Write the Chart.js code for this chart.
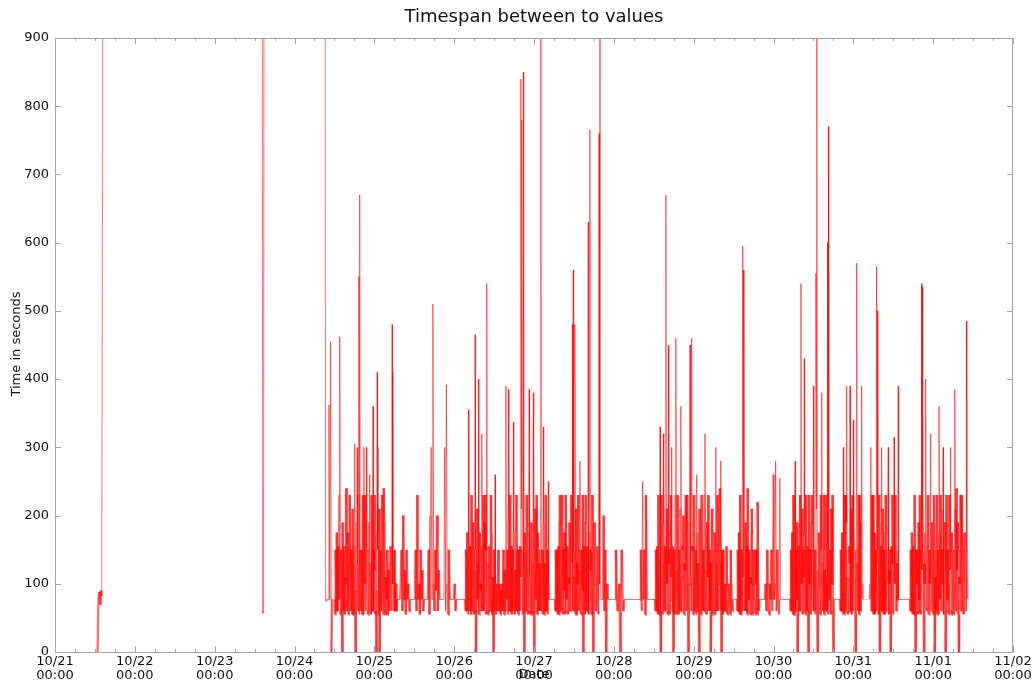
<!DOCTYPE html>
<html>
<head>
<meta charset="utf-8">
<script src="https://cdn.jsdelivr.net/npm/chart.js@4.4.1/dist/chart.umd.min.js"></script>
<style>
  html, body { margin: 0; padding: 0; background: #fff; }
  #wrap { width: 1035px; height: 682px; }
</style>
</head>
<body>
<div id="wrap"><canvas id="chart" width="1035" height="682"></canvas></div>
<script>
// x = hours after 10/21 00:00, one reading every 15 min inside a burst
// (the *Mid arrays are the readings in between, 7.5 min later)
const dayLabels = ['10/21','10/22','10/23','10/24','10/25','10/26','10/27','10/28','10/29','10/30','10/31','11/01','11/02'];
const yTicks = [0,100,200,300,400,500,600,700,800,900];
const stepHours = 0.25;

// bursts of readings (seconds between two values)
const oct21 = [0, 75, 88, 70, 90, 82, 690, 2000];
const oct23 = [2000, 57, 60, 2000];
const oct24 = [2000, 75, 76, 76, 77, 362, 77, 455, 0, 77, 77, 77];
const oct24b = [
  77, 150, 60, 100, 155, 77, 462, 60, 120, 0,
  77, 150, 55, 100, 240, 77, 155, 60, 230, 90,
  150, 55, 120, 77, 305, 0, 155, 300, 60, 550,
  670, 77, 150, 55, 230, 300, 100, 60, 300, 150,
  55, 155, 260, 77, 120, 60, 360, 150, 230, 55,
  0, 410, 300, 100, 0, 150, 77, 230, 60, 240,
  120, 55, 77, 150, 77, 90, 60, 155, 77, 480,
  410, 77, 150, 60, 100, 77];
const oct24bMid = [
  55, 120, 175, 60, 130, 230, 55, 150, 90, 190,
  60, 155, 110, 230, 60, 175, 55, 130, 150, 60,
  120, 210, 55, 155, 90, 60, 190, 130, 230, 55,
  150, 60, 120, 175, 55, 110, 230, 60, 150, 90,
  60, 190, 130, 55, 230, 150, 60, 120, 175, 60,
  90, 150, 55, 210, 120, 60, 155, 130, 55, 190,
  60, 110, 77, 55, 120, 60, 130, 150, 60, 100,
  150, 60, 77, 100, 60];
const oct25a = [77, 100, 150, 60, 200, 77, 120, 55, 150, 77, 100, 60, 77, 77];
const oct25b = [77, 150, 60, 230, 77, 100, 55, 150, 77, 120, 60, 77];
const oct25c = [77, 150, 55, 200, 300, 77, 510, 100, 60, 150, 90, 200, 60, 120, 77];
const oct25d = [77, 300, 60, 392, 100, 55, 150, 77];
const oct25e = [77, 100, 60, 77];
const oct26 = [
  77, 150, 60, 100, 355, 77, 155, 55, 230, 90,
  150, 60, 465, 0, 120, 77, 400, 55, 150, 100,
  320, 60, 230, 77, 150, 55, 540, 120, 60, 155,
  77, 230, 90, 60, 0, 150, 260, 55, 100, 77,
  150, 60, 77, 90, 60, 77, 150, 55, 100, 390,
  77, 150, 385, 60, 230, 100, 55, 150, 337, 77,
  120, 60, 230, 150, 55, 100, 155, 840, 780, 60,
  850, 0, 150, 77, 230, 60, 120, 385, 55, 150,
  100, 60, 380, 0, 155, 77, 230, 55, 150, 90,
  60, 2000, 77, 150, 330, 55, 100, 230, 60, 150,
  250, 77];
const oct26Mid = [
  60, 130, 175, 55, 150, 60, 120, 230, 60, 190,
  55, 120, 150, 60, 210, 130, 55, 175, 90, 60,
  155, 110, 60, 190, 230, 60, 130, 55, 150, 120,
  60, 175, 55, 110, 150, 60, 100, 77, 60, 100,
  60, 100, 55, 77, 100, 60, 77, 120, 60, 150,
  130, 55, 190, 110, 60, 155, 130, 60, 175, 55,
  120, 230, 60, 130, 150, 60, 110, 210, 150, 55,
  130, 175, 60, 120, 150, 55, 230, 110, 60, 190,
  55, 130, 150, 60, 210, 120, 55, 175, 60, 130,
  150, 60, 110, 55, 190, 130, 60, 150, 120, 55,
  100];
const oct27 = [
  77, 150, 60, 100, 155, 55, 230, 77, 120, 60,
  150, 90, 55, 230, 77, 150, 60, 100, 155, 77,
  230, 480, 560, 60, 480, 150, 55, 100, 230, 77,
  280, 60, 150, 90, 0, 155, 55, 230, 100, 60,
  630, 77, 765, 150, 55, 230, 0, 100, 150, 60,
  77, 155, 60, 760, 2000, 77];
const oct27Mid = [
  60, 130, 150, 55, 120, 190, 60, 110, 230, 55,
  130, 175, 60, 120, 155, 55, 110, 190, 60, 230,
  130, 60, 150, 110, 55, 210, 130, 175, 60, 120,
  150, 55, 130, 230, 60, 110, 190, 60, 155, 130,
  55, 175, 120, 60, 150, 130, 55, 190, 110, 60,
  150, 120, 55, 100, 77];
const oct27b = [77, 200, 60, 150, 0, 100, 77, 77];
const oct28a = [77, 150, 77, 60, 77, 100, 0, 77, 150, 77, 60, 77];
const oct28b = [77, 150, 60, 250, 77, 150, 55, 230, 77, 77];
const oct28c = [
  77, 150, 60, 100, 230, 55, 330, 0, 150, 77,
  320, 60, 155, 670, 100, 55, 450, 150, 77, 230,
  300, 60, 0, 150, 90, 460, 55, 230, 100, 150,
  60, 360, 77, 155, 200, 55, 120, 230, 60, 150,
  0, 100, 450, 60, 460, 155, 55, 230, 77, 150,
  260, 60, 100, 0, 155, 55, 230, 77, 150, 60,
  320, 100, 55, 150, 230, 77, 60, 0, 155, 100,
  55, 150, 77, 300, 60, 230, 100, 150, 240, 280,
  0, 77, 150, 60, 100, 77, 155, 55, 77, 100,
  60, 150, 77, 60, 77, 77];
const oct28cMid = [
  60, 130, 155, 55, 175, 110, 60, 230, 130, 55,
  190, 120, 60, 150, 210, 60, 130, 55, 175, 110,
  60, 155, 130, 55, 230, 120, 60, 190, 55, 130,
  210, 60, 110, 150, 55, 130, 175, 60, 230, 120,
  55, 190, 110, 60, 150, 130, 230, 60, 120, 55,
  175, 130, 60, 210, 110, 55, 150, 60, 130, 230,
  120, 55, 190, 110, 60, 150, 130, 55, 210, 60,
  120, 175, 55, 130, 150, 60, 110, 230, 60, 130,
  150, 55, 100, 77, 60, 100, 77, 60, 100, 77,
  55, 100, 60, 77, 77];
const oct29a = [
  77, 150, 60, 100, 230, 55, 150, 595, 560, 77,
  100, 60, 155, 240, 77, 150, 55, 100, 210, 60,
  150, 77, 55, 100, 150, 220, 60, 77];
const oct29aMid = [
  60, 130, 175, 55, 120, 150, 60, 110, 230, 60,
  190, 130, 55, 120, 150, 60, 110, 175, 55, 100,
  77, 60, 150, 120, 55, 100, 60];
const oct29b = [
  77, 100, 60, 150, 77, 55, 100, 77, 150, 60,
  260, 77, 100, 280, 60, 150, 77, 55, 255, 77];
const oct30 = [
  77, 150, 60, 100, 230, 55, 280, 150, 77, 0,
  155, 60, 230, 540, 100, 55, 150, 430, 77, 230,
  60, 155, 0, 100, 150, 55, 230, 77, 390, 60,
  150, 555, 2000, 0, 100, 155, 60, 230, 380, 77,
  150, 55, 100, 230, 60, 600, 770, 77, 150, 55,
  100, 230, 0, 77];
const oct30Mid = [
  60, 130, 175, 55, 120, 230, 60, 110, 190, 55,
  130, 150, 60, 120, 210, 60, 110, 175, 55, 130,
  150, 60, 230, 120, 55, 190, 110, 60, 150, 130,
  55, 210, 120, 60, 175, 110, 55, 150, 130, 60,
  230, 120, 60, 190, 110, 55, 150, 130, 60, 210,
  100, 60, 77];
const oct31 = [
  77, 150, 60, 100, 300, 55, 150, 230, 390, 77,
  60, 155, 390, 100, 55, 230, 340, 150, 60, 0,
  570, 100, 155, 55, 230, 77, 390, 77, 77, 77,
  77, 77, 77, 77, 77, 77, 77, 300, 150, 60,
  230, 100, 55, 150, 565, 500, 77, 230, 0, 155,
  300, 60, 100, 150, 55, 230, 77, 150, 300, 60,
  100, 0, 155, 230, 55, 315, 100, 150, 60, 77,
  390, 77];
const oct31Mid = [
  60, 130, 175, 55, 120, 230, 60, 190, 110, 55,
  150, 130, 60, 210, 120, 60, 175, 110, 55, 150,
  130, 60, 230, 120, 60, 190, 100, 77, 77, 77,
  77, 77, 77, 77, 77, 77, 100, 60, 230, 130,
  55, 175, 110, 60, 150, 130, 55, 190, 120, 60,
  150, 210, 55, 130, 175, 60, 110, 230, 55, 120,
  150, 60, 130, 190, 55, 110, 230, 60, 130, 150,
  77];
const nov01 = [
  77, 150, 60, 100, 155, 55, 230, 0, 100, 150,
  60, 77, 230, 55, 540, 535, 150, 0, 100, 400,
  60, 155, 230, 55, 100, 320, 77, 150, 60, 230,
  0, 100, 155, 55, 150, 360, 77, 230, 60, 100,
  300, 55, 150, 0, 230, 77, 100, 60, 155, 300,
  55, 150, 100, 60, 385, 77, 240, 150, 55, 0,
  100, 230, 60, 150, 77, 55, 155, 100, 485, 77];
const nov01Mid = [
  60, 130, 175, 55, 120, 230, 60, 150, 110, 55,
  190, 130, 60, 150, 120, 210, 55, 130, 175, 60,
  110, 230, 55, 150, 130, 60, 190, 120, 55, 150,
  110, 60, 230, 130, 55, 175, 120, 60, 150, 210,
  55, 130, 190, 60, 110, 150, 55, 230, 120, 60,
  175, 130, 55, 150, 210, 60, 120, 190, 55, 110,
  150, 60, 230, 130, 55, 175, 110, 60, 150];

const blockStartHours = [12.8, 62.2, 81.1, 84.1, 103.7, 108.2, 112.1, 116.9, 119.9, 123.3,
  150.3, 164.7, 168.4, 175.9, 180.4, 205.0, 213.4, 221.0, 236.0, 257.0];
const blockValues = [oct21, oct23, oct24, oct24b, oct25a, oct25b, oct25c, oct25d, oct25e, oct26,
  oct27, oct27b, oct28a, oct28b, oct28c, oct29a, oct29b, oct30, oct31, nov01];
const blockMidValues = [null, null, null, oct24bMid, null, null, null, null, null, oct26Mid,
  oct27Mid, null, null, null, oct28cMid, oct29aMid, null, oct30Mid, oct31Mid, nov01Mid];

const points = [];
blockValues.forEach((vals, b) => {
  vals.forEach((v, i) => points.push({ x: blockStartHours[b] + i * stepHours, y: v }));
  const mid = blockMidValues[b];
  if (mid) mid.forEach((v, i) => points.push({ x: blockStartHours[b] + (i + 0.5) * stepHours, y: v }));
});
points.sort((p, q) => p.x - q.x);

const FONT = "'DejaVu Sans', sans-serif";
const lineRed = 'rgba(255,0,0,0.55)';
const lineRed2 = 'rgba(255,0,1,0.55)';

// gnuplot style frame with inward ticks, plus title and axis labels
const gnuplotFrame = {
  id: 'gnuplotFrame',
  afterDatasetsDraw(chart) {
    const { ctx, chartArea: a, scales: { x, y } } = chart;
    ctx.save();
    ctx.strokeStyle = '#a6a6a6';
    ctx.lineWidth = 1;
    ctx.strokeRect(a.left + 0.5, a.top + 0.5, a.right - a.left - 1, a.bottom - a.top);
    ctx.beginPath();
    for (let h = 0; h <= 288; h += 6) {
      const px = Math.round(x.getPixelForValue(h)) + 0.5;
      const len = h % 24 === 0 ? 6 : 3;
      ctx.moveTo(px, a.bottom); ctx.lineTo(px, a.bottom - len);
      ctx.moveTo(px, a.top); ctx.lineTo(px, a.top + len);
    }
    yTicks.forEach(v => {
      const py = Math.round(y.getPixelForValue(v)) + 0.5;
      ctx.moveTo(a.left, py); ctx.lineTo(a.left + 6, py);
      ctx.moveTo(a.right, py); ctx.lineTo(a.right - 6, py);
    });
    ctx.stroke();

    const cx = (a.left + a.right) / 2;
    ctx.fillStyle = '#111';
    ctx.textAlign = 'center';
    ctx.textBaseline = 'middle';
    ctx.font = '18px ' + FONT;
    ctx.fillText('Timespan between to values', cx, 17);
    ctx.font = '13px ' + FONT;
    ctx.fillText('Date', cx, 675);
    ctx.translate(20, 344);
    ctx.rotate(-Math.PI / 2);
    ctx.textBaseline = 'alphabetic';
    ctx.fillText('Time in seconds', 0, 0);
    ctx.restore();
  }
};

// short hops inside the dense band are drawn wider so the band fills in like the original;
// flat runs on the baseline and tall spikes stay thin
const segWidth = c => {
  const a = c.p0.parsed.y, b = c.p1.parsed.y;
  if (a === b) return 1;
  return Math.max(a, b) <= 240 ? 2.4 : 1;
};

new Chart(document.getElementById('chart'), {
  type: 'line',
  data: {
    datasets: [{
      data: points,
      borderColor: lineRed,
      borderWidth: 1,
      pointRadius: 0,
      tension: 0,
      segment: {
        borderColor: c => (c.p0DataIndex % 2 ? lineRed : lineRed2),
        borderWidth: segWidth
      }
    }]
  },
  options: {
    responsive: false,
    animation: false,
    devicePixelRatio: 1,
    layout: { padding: { top: 38, right: 22, left: 0, bottom: 0 } },
    plugins: { legend: { display: false }, tooltip: { enabled: false }, title: { display: false } },
    scales: {
      x: {
        type: 'linear', min: 0, max: 288,
        afterFit(s) { s.height = 30; },
        grid: { display: false, drawTicks: false }, border: { display: false },
        ticks: {
          stepSize: 24, autoSkip: false, maxRotation: 0, padding: 2, color: '#111',
          font: { family: FONT, size: 13, lineHeight: 1.1 },
          callback: v => [dayLabels[v / 24], '00:00']
        }
      },
      y: {
        min: 0, max: 900,
        afterFit(s) { s.width = 55; },
        grid: { display: false, drawTicks: false }, border: { display: false },
        ticks: {
          stepSize: 100, padding: 6, color: '#111',
          font: { family: FONT, size: 13 }
        }
      }
    }
  },
  plugins: [gnuplotFrame]
});
</script>
</body>
</html>
